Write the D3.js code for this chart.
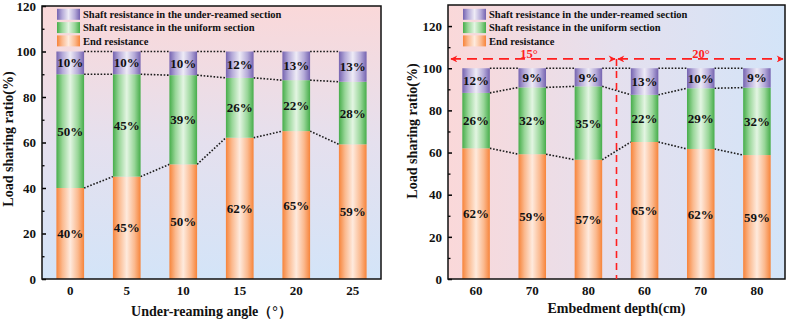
<!DOCTYPE html>
<html>
<head>
<meta charset="utf-8">
<script src="https://cdn.jsdelivr.net/npm/d3@7"></script>
<style>
body { margin: 0; background: #fff; }
svg { display: block; }
svg text { font-family: "Liberation Serif", "DejaVu Serif", "Noto Serif", serif !important; font-weight: bold; fill: #111; }
</style>
</head>
<body>
<svg id="chart" width="788" height="324" font-family="Liberation Serif"></svg>
<script>
// series names, legend order (top to bottom)
var seriesNames = ["Shaft resistance in the under-reamed section",
                   "Shaft resistance in the uniform section",
                   "End resistance"];

// left panel : under-reaming angle
var angleCats    = ["0", "5", "10", "15", "20", "25"];
var angleEnd     = [40, 45, 50.4, 62.1, 65, 59.2];
var angleUniform = [50, 45, 39.2, 26.3, 22.4, 27.5];
var angleReamed  = [10, 10, 10.4, 11.6, 12.6, 13.3];
var angleTicks   = [0, 20, 40, 60, 80, 100, 120];

// right panel : embedment depth (two angle groups)
var depthCats    = ["60", "70", "80", "60", "70", "80"];
var depthEnd     = [62, 59.2, 56.6, 65, 61.7, 58.8];
var depthUniform = [26.3, 31.7, 34.8, 22.4, 28.8, 32];
var depthReamed  = [11.7, 9.1, 8.6, 12.6, 9.5, 9.2];
var depthTicks   = [0, 20, 40, 60, 80, 100, 120];
var depthGroups  = ["15°", "20°"];
var groupLineValue = 104.4;

var FONT = '"Liberation Serif", "DejaVu Serif", serif';

var svg = d3.select("#chart");
var defs = svg.append("defs");

function barGradient(id, edge, mid, light) {
  var g = defs.append("linearGradient").attr("id", id)
    .attr("x1", 0).attr("x2", 1).attr("y1", 0).attr("y2", 0);
  g.append("stop").attr("offset", 0).attr("stop-color", edge);
  g.append("stop").attr("offset", 0.22).attr("stop-color", mid);
  g.append("stop").attr("offset", 0.5).attr("stop-color", light);
  g.append("stop").attr("offset", 0.78).attr("stop-color", mid);
  g.append("stop").attr("offset", 1).attr("stop-color", edge);
}
barGradient("gReamed", "#7563b0", "#b4a9d8", "#eeebf6");
barGradient("gUniform", "#46ad4a", "#98d698", "#e3f5e2");
barGradient("gEnd", "#f7843a", "#fbb98e", "#feeadd");
var fills = ["url(#gReamed)", "url(#gUniform)", "url(#gEnd)"];

function bgGradient(id, vertical) {
  var g = defs.append("linearGradient").attr("id", id)
    .attr("x1", 0).attr("y1", 0)
    .attr("x2", vertical ? 0 : 1).attr("y2", vertical ? 1 : 0);
  g.append("stop").attr("offset", 0).attr("stop-color", "#fad8d9");
  g.append("stop").attr("offset", 0.5).attr("stop-color", "#e5e0ee");
  g.append("stop").attr("offset", 1).attr("stop-color", "#d3e4f8");
}
bgGradient("bgV", true);
bgGradient("bgH", false);

var marker = defs.append("marker").attr("id", "arrow")
  .attr("viewBox", "0 0 10 10").attr("refX", 9).attr("refY", 5)
  .attr("markerWidth", 9).attr("markerHeight", 7)
  .attr("markerUnits", "userSpaceOnUse")
  .attr("orient", "auto-start-reverse");
marker.append("path").attr("d", "M0,0L10,5L0,10L3,5Z").attr("fill", "#ff1f1f");

function label(sel, size) {
  return sel.style("font-family", FONT).style("font-weight", "bold").attr("font-size", size);
}

function drawPanel(cfg) {
  var g = svg.append("g");
  var x = d3.scaleBand().domain(d3.range(cfg.cats.length))
    .range([cfg.left, cfg.right]).paddingInner(0.51).paddingOuter(0.255);
  var y = d3.scaleLinear().domain([0, cfg.ymax]).range([cfg.bottom, cfg.top]);

  g.append("rect").attr("x", cfg.left).attr("y", cfg.top)
    .attr("width", cfg.right - cfg.left).attr("height", cfg.bottom - cfg.top)
    .attr("fill", cfg.bg);

  var rows = cfg.cats.map(function(c, i) {
    return { i: i, end: cfg.end[i], uniform: cfg.uniform[i], reamed: cfg.reamed[i] };
  });
  var stack = d3.stack().keys(["end", "uniform", "reamed"])(rows);

  // dotted connectors between neighbouring bars
  stack.forEach(function(layer) {
    for (var i = 0; i < layer.length - 1; i++) {
      g.append("line")
        .attr("x1", x(i) + x.bandwidth()).attr("y1", y(layer[i][1]))
        .attr("x2", x(i + 1)).attr("y2", y(layer[i + 1][1]))
        .attr("stroke", "#1a1a1a").attr("stroke-width", 1.6)
        .attr("stroke-dasharray", "1.6,1.7");
    }
  });

  stack.forEach(function(layer, k) {
    var fill = fills[2 - k];
    g.selectAll(null).data(layer).enter().append("rect")
      .attr("x", function(d, i) { return x(i); })
      .attr("y", function(d) { return y(d[1]); })
      .attr("width", x.bandwidth())
      .attr("height", function(d) { return y(d[0]) - y(d[1]); })
      .attr("fill", fill);
    label(g.selectAll(null).data(layer).enter().append("text"), 13)
      .attr("x", function(d, i) { return x(i) + x.bandwidth() / 2; })
      .attr("y", function(d) { return y((d[0] + d[1]) / 2); })
      .attr("dy", "0.35em").attr("text-anchor", "middle")
      .text(function(d) { return Math.round(d[1] - d[0]) + "%"; });
  });

  // y axis, ticks pointing inwards
  var minor = d3.range(10, cfg.ymax, 20);
  g.append("g").attr("transform", "translate(" + cfg.left + ",0)")
    .call(d3.axisLeft(y).tickValues(minor).tickSize(-2.5).tickFormat(""))
    .call(function(a) { a.select(".domain").remove(); a.selectAll("line").attr("stroke-width", 1.3); });
  g.append("g").attr("transform", "translate(" + cfg.left + ",0)")
    .call(d3.axisLeft(y).tickValues(cfg.ticks).tickSize(-4).tickPadding(6))
    .call(function(a) {
      a.attr("font-family", null);
      a.select(".domain").remove();
      a.selectAll("line").attr("stroke-width", 1.5);
      label(a.selectAll("text"), 13).style("fill", "#111");
    });

  // x labels
  label(g.selectAll(null).data(cfg.cats).enter().append("text"), 13)
    .attr("x", function(d, i) { return x(i) + x.bandwidth() / 2; })
    .attr("y", 295).attr("text-anchor", "middle")
    .text(function(d) { return d; });

  g.append("rect").attr("x", cfg.left).attr("y", cfg.top)
    .attr("width", cfg.right - cfg.left).attr("height", cfg.bottom - cfg.top)
    .attr("fill", "none").attr("stroke", "#111").attr("stroke-width", 1.5);

  // legend
  var lg = g.append("g").attr("transform", "translate(" + (cfg.left + 15) + ",8.8)");
  seriesNames.forEach(function(name, k) {
    lg.append("rect").attr("x", 0).attr("y", k * 13.3)
      .attr("width", 23).attr("height", 11).attr("fill", fills[k]);
    label(lg.append("text"), 10.5).attr("x", 26).attr("y", k * 13.3 + 5.5).attr("dy", "0.35em")
      .text(name);
  });

  label(g.append("text"), 14).attr("x", (cfg.left + cfg.right) / 2).attr("y", cfg.xTitleY)
    .attr("text-anchor", "middle").text(cfg.xTitle);
  label(g.append("text"), 14)
    .attr("transform", "translate(" + cfg.yTitleX + "," + cfg.yTitleCy + ") rotate(-90)")
    .attr("text-anchor", "middle").text("Load sharing ratio(%)");

  return { x: x, y: y };
}

drawPanel({
  cats: angleCats, end: angleEnd, uniform: angleUniform, reamed: angleReamed,
  ticks: angleTicks, ymax: 120, left: 42, right: 381, top: 6, bottom: 279,
  bg: "url(#bgV)", xTitle: "Under-reaming angle（°）", xTitleY: 316,
  yTitleX: 13, yTitleCy: 139
});

var right = drawPanel({
  cats: depthCats, end: depthEnd, uniform: depthUniform, reamed: depthReamed,
  ticks: depthTicks, ymax: 130, left: 448, right: 785, top: 5, bottom: 279,
  bg: "url(#bgH)", xTitle: "Embedment depth(cm)", xTitleY: 313,
  yTitleX: 417, yTitleCy: 131
});

// 15° / 20° group annotation
var rx = right.x, ry = right.y;
var xm = (rx(2) + rx.bandwidth() + rx(3)) / 2;
var yl = ry(groupLineValue);
var red = svg.append("g");
red.append("line").attr("x1", xm).attr("x2", xm).attr("y1", yl).attr("y2", 279)
  .attr("stroke", "#ff1f1f").attr("stroke-width", 1.6).attr("stroke-dasharray", "7,5");
var spans = [[451, xm - 1.5], [xm + 1.5, 783]];
spans.forEach(function(s, k) {
  red.append("line").attr("x1", s[0]).attr("x2", s[1]).attr("y1", yl).attr("y2", yl)
    .attr("stroke", "#ff1f1f").attr("stroke-width", 1.8).attr("stroke-dasharray", "10,6")
    .attr("marker-start", "url(#arrow)").attr("marker-end", "url(#arrow)");
  label(red.append("text"), 12.5).attr("x", k === 0 ? 529 : 701).attr("y", yl - 1.2)
    .attr("text-anchor", "middle").style("fill", "#ff1f1f")
    .text(depthGroups[k]);
});
</script>
</body>
</html>
